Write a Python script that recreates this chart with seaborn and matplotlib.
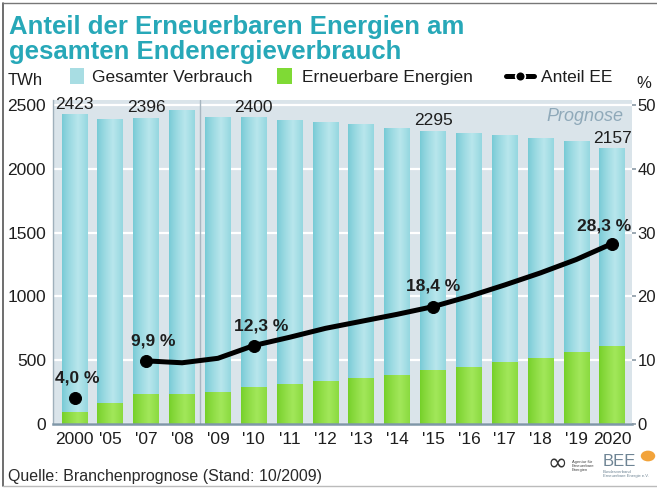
import numpy as np
import pandas as pd
import matplotlib
matplotlib.use("Agg")
import matplotlib.pyplot as plt
import seaborn as sns
from matplotlib.patches import Rectangle
from matplotlib.lines import Line2D
from matplotlib.colors import to_rgb

# ---------------- data ----------------
years = ["2000", "'05", "'07", "'08", "'09", "'10", "'11", "'12",
         "'13", "'14", "'15", "'16", "'17", "'18", "'19", "2020"]
gesamt = [2423, 2385, 2396, 2455, 2400, 2400, 2378, 2362,
          2345, 2320, 2295, 2278, 2260, 2238, 2215, 2157]
erneuerbar = [90, 160, 230, 230, 245, 290, 308, 332,
              357, 384, 418, 446, 482, 517, 561, 605]
anteil = [4.0, np.nan, 9.9, 9.6, 10.3, 12.3, 13.6, 15.0,
          16.1, 17.2, 18.4, 20.0, 21.8, 23.7, 25.8, 28.3]
gesamt_labels = {"2000": "2423", "'07": "2396", "'10": "2400", "'15": "2295", "2020": "2157"}
anteil_labels = {"2000": "4,0 %", "'07": "9,9 %", "'10": "12,3 %", "'15": "18,4 %", "2020": "28,3 %"}
left_ticks = [0, 500, 1000, 1500, 2000, 2500]
right_ticks = [0, 10, 20, 30, 40, 50]

title = "Anteil der Erneuerbaren Energien am\ngesamten Endenergieverbrauch"
source = "Quelle: Branchenprognose (Stand: 10/2009)"

df = pd.DataFrame({"Jahr": years, "Gesamt": gesamt, "EE": erneuerbar, "Anteil": anteil})
df["pos"] = np.arange(len(df))

# ---------------- style ----------------
sns.set_theme(style="white")
plt.rcParams["font.family"] = ["Liberation Sans", "DejaVu Sans"]

W, H = 657, 488
fig = plt.figure(figsize=(W / 100, H / 100), dpi=100)
fig.patch.set_facecolor("white")


def fx(px):
    return px / W


def fy(py):
    return 1 - py / H


CYAN = "#8fd5de"
GREEN = "#86d83a"
PANEL = "#dae4ea"
TITLE_C = "#27a8b8"

ax = fig.add_axes([fx(53), fy(424), fx(632) - fx(53), fy(100) - fy(424)])
ax.set_facecolor(PANEL)

sns.barplot(data=df, x="Jahr", y="Gesamt", color=CYAN, saturation=1,
            width=0.72, errorbar=None, ax=ax, zorder=2, linewidth=0)
cyan_patches = list(ax.patches)
sns.barplot(data=df, x="Jahr", y="EE", color=GREEN, saturation=1,
            width=0.72, errorbar=None, ax=ax, zorder=4, linewidth=0)
green_patches = [p for p in ax.patches if p not in cyan_patches]


def gradient(patches, c_edge, c_mid, z):
    a = np.array(to_rgb(c_edge))
    b = np.array(to_rgb(c_mid))
    t = np.linspace(0, 1, 64)
    prof = np.clip(1 - np.abs(t - 0.62) / 0.62, 0, 1) ** 0.8
    img = a[None, :] * (1 - prof[:, None]) + b[None, :] * prof[:, None]
    img = img[None, :, :]
    for p in patches:
        x0, y0, w, h = p.get_x(), p.get_y(), p.get_width(), p.get_height()
        ax.imshow(img, extent=[x0, x0 + w, y0, y0 + h], aspect="auto",
                  zorder=z, interpolation="bilinear")


gradient(cyan_patches, "#76cad5", "#b8e6ec", 2.5)
gradient(green_patches, "#74cf28", "#a2e75a", 4.5)

ax.set_xlim(-0.6, 15.55)
ax.set_ylim(0, 2540)
ax.set_yticks(left_ticks)
ax.set_yticklabels([str(v) for v in left_ticks])
ax.set_xticks(df["pos"])
ax.set_xticklabels(years)
ax.set_xlabel("")
ax.set_ylabel("")
ax.grid(axis="y", color="white", lw=1.6, zorder=1)
ax.set_axisbelow(True)
ax.tick_params(axis="both", length=0, labelsize=12.5, colors="#1e1e1e")
ax.tick_params(axis="y", pad=5)
ax.tick_params(axis="x", pad=6)
for s in ["top", "right"]:
    ax.spines[s].set_visible(False)
ax.spines["left"].set_color("#9fb0bb")
ax.spines["left"].set_linewidth(1.0)
ax.spines["bottom"].set_color("#7f97a8")
ax.spines["bottom"].set_linewidth(1.8)
ax.spines["bottom"].set_zorder(6)

# history / forecast separator
ax.axvline(3.5, color="#a7b6c0", lw=1.0, zorder=1.5)
ax.text(0.985, 0.948, "Prognose", transform=ax.transAxes, ha="right", va="center",
        fontsize=13, style="italic", color="#8fa9b9")

# total labels
for yr, lab in gesamt_labels.items():
    i = years.index(yr)
    ax.annotate(lab, (i, gesamt[i]), xytext=(0, 3), textcoords="offset pixels",
                ha="center", va="bottom", fontsize=12.5, color="#1e1e1e", zorder=8)

# ---------------- percentage axis ----------------
ax2 = ax.twinx()
ax2.set_ylim(0, 50.8)
ax2.set_yticks(right_ticks)
ax2.set_yticklabels([str(v) for v in right_ticks])
ax2.tick_params(axis="y", length=3, width=1.2, color="#8a9aa6", labelsize=12,
                labelcolor="#1e1e1e", pad=1)
for s in ax2.spines.values():
    s.set_visible(False)
ax2.grid(False)

line_df = df[df["pos"] >= years.index("'07")]
sns.lineplot(data=line_df, x="pos", y="Anteil", ax=ax2, color="black", lw=3.6,
             zorder=6, solid_capstyle="round")
pt_idx = [years.index(k) for k in anteil_labels]
pt_df = df.iloc[pt_idx]
sns.scatterplot(data=pt_df, x="pos", y="Anteil", ax=ax2, color="black", s=75,
                edgecolor="black", zorder=7)
ax2.set_xlabel("")
ax2.set_ylabel("")
ax2.set_xlim(-0.6, 15.55)

offsets = {"2000": (3, 20), "'07": (7, 20), "'10": (7, 20), "'15": (0, 21), "2020": (-8, 18)}
for yr, lab in anteil_labels.items():
    i = years.index(yr)
    ax2.annotate(lab, (i, anteil[i]), xytext=offsets[yr], textcoords="offset pixels",
                 ha="center", va="center", fontsize=12.5, fontweight="bold",
                 color="#1e1e1e", zorder=9)

# ---------------- titles, legend, source ----------------
fig.text(fx(9), fy(59), title, ha="left", va="baseline", fontsize=18.5,
         fontweight="bold", color=TITLE_C, linespacing=1.05)

fig.text(fx(8), fy(85), "TWh", ha="left", va="baseline", fontsize=12, color="#1e1e1e")
fig.text(fx(636), fy(88), "%", ha="left", va="baseline", fontsize=12, color="#1e1e1e")

fig.patches.append(Rectangle((fx(70), fy(84)), fx(14), fy(68) - fy(84),
                             transform=fig.transFigure, facecolor="#a8dde3", edgecolor="none"))
fig.text(fx(92), fy(82), "Gesamter Verbrauch", ha="left", va="baseline", fontsize=12.5,
         color="#1e1e1e")
fig.patches.append(Rectangle((fx(277), fy(84)), fx(15), fy(68) - fy(84),
                             transform=fig.transFigure, facecolor="#7fda35", edgecolor="none"))
fig.text(fx(302), fy(82), "Erneuerbare Energien", ha="left", va="baseline", fontsize=12.5,
         color="#1e1e1e")
fig.lines.append(Line2D([fx(506), fx(534)], [fy(76), fy(76)], transform=fig.transFigure,
                        color="black", lw=3.6))
fig.lines.append(Line2D([fx(520)], [fy(76)], transform=fig.transFigure, color="black",
                        marker="o", markersize=7, markeredgecolor="white", markeredgewidth=1.2))
fig.text(fx(541), fy(82), "Anteil EE", ha="left", va="baseline", fontsize=12.5,
         color="#1e1e1e")

fig.text(fx(8), fy(481), source, ha="left", va="baseline", fontsize=11.5, color="#2a2a2a")

# logos (approximate, as text)
fig.text(fx(548), fy(470), "\u221e", ha="left", va="baseline", fontsize=17,
         color="#333333", family="DejaVu Sans")
fig.text(fx(572), fy(471), "Agentur für\nErneuerbare\nEnergien", ha="left", va="baseline",
         fontsize=3, color="#444444", linespacing=1.0)
fig.text(fx(603), fy(466), "BEE", ha="left", va="baseline", fontsize=12, color="#6e8494")
fig.text(fx(603), fy(477), "Bundesverband\nErneuerbare Energie e.V.", ha="left",
         va="baseline", fontsize=3, color="#6e8494", linespacing=1.0)
fig.patches.append(matplotlib.patches.Circle((fx(648), fy(456)), 0.011,
                                             transform=fig.transFigure,
                                             facecolor="#f2a33a", edgecolor="none"))

# frame around the graphic
fig.lines.append(Line2D([fx(3), fx(3)], [fy(3), fy(486)], transform=fig.transFigure,
                        color="#555555", lw=1.2))
fig.lines.append(Line2D([fx(3), fx(657)], [fy(3), fy(3)], transform=fig.transFigure,
                        color="#777777", lw=1.0))
fig.lines.append(Line2D([fx(3), fx(657)], [fy(486), fy(486)], transform=fig.transFigure,
                        color="#bbbbbb", lw=1.0))

fig.savefig("out.png", dpi=100, facecolor="white")
